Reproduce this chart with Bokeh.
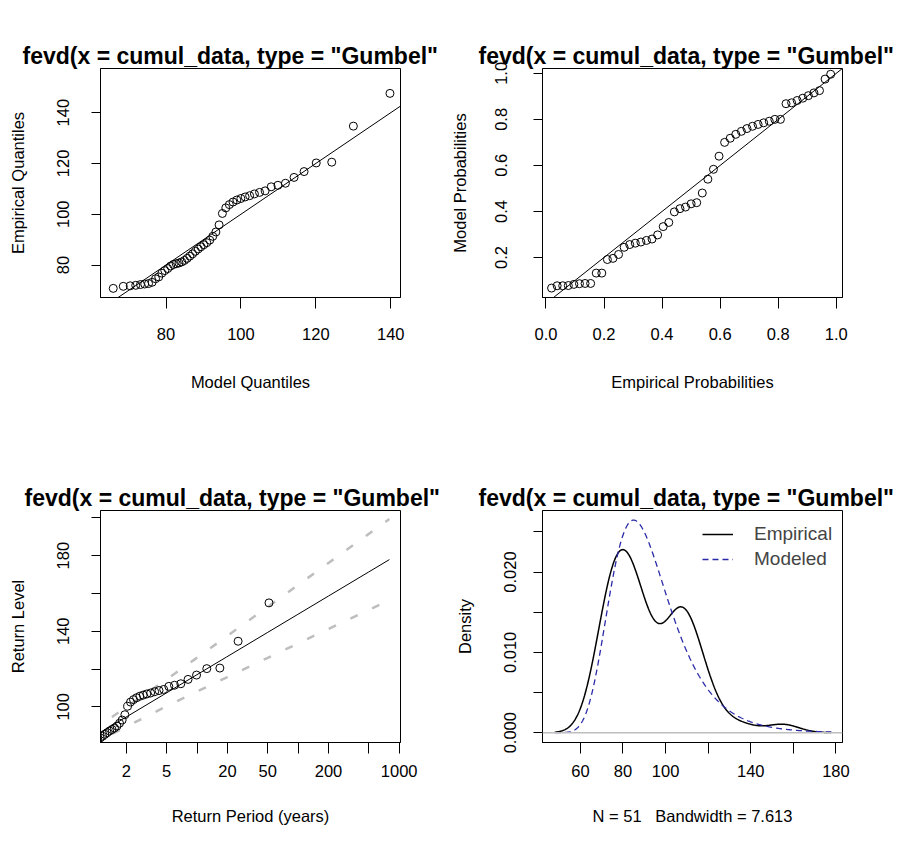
import numpy as np
from bokeh.plotting import figure
from bokeh.layouts import gridplot
from bokeh.models import (Range1d, FixedTicker, Legend, LegendItem, Span, Title,
                          NumeralTickFormatter, LinearAxis)
from bokeh.embed import file_html
from bokeh.resources import INLINE

FONT = "Liberation Sans"
S = 0.982

# ---------------- data ----------------
obs = [70.8, 71.6, 71.8, 72.0, 72.3, 72.5, 72.7, 73.2, 74.6, 75.3,
       76.8, 77.8, 78.6, 79.6, 80.2, 80.5, 80.8, 81.2, 81.8, 82.6,
       83.5, 84.4, 85.4, 86.3, 87.2, 88.0, 88.8, 89.8, 91.3, 93.0,
       95.8, 100.3, 102.5, 103.8, 104.8, 105.6, 106.2, 106.8, 107.3, 108.0,
       108.6, 109.2, 110.8, 111.4, 112.2, 114.5, 116.8, 120.2, 120.5, 134.7,
       155.0]
qq_empirical = [70.8, 71.6, 71.8, 72.0, 72.3, 72.5, 72.7, 73.2, 74.6, 75.3,
                76.8, 77.8, 78.6, 79.6, 80.2, 80.5, 80.8, 81.2, 81.8, 82.6,
                83.5, 84.4, 85.4, 86.3, 87.2, 88.0, 88.8, 89.8, 91.3, 93.0,
                95.8, 100.3, 102.5, 103.8, 104.8, 105.6, 106.2, 106.8, 107.3, 108.0,
                108.6, 109.2, 110.8, 111.4, 112.2, 114.5, 116.8, 120.2, 120.5, 134.7,
                147.6]
pp_model = [0.067, 0.077, 0.077, 0.078, 0.083, 0.086, 0.087, 0.087, 0.132, 0.132,
            0.191, 0.196, 0.213, 0.244, 0.256, 0.262, 0.267, 0.274, 0.280, 0.298,
            0.334, 0.352, 0.398, 0.412, 0.419, 0.433, 0.438, 0.480, 0.540, 0.583,
            0.640, 0.700, 0.718, 0.735, 0.748, 0.760, 0.770, 0.778, 0.785, 0.792,
            0.800, 0.800, 0.868, 0.872, 0.882, 0.892, 0.903, 0.915, 0.925, 0.975,
            0.996]
gumbel_loc = 85.0
gumbel_scale = 13.9
bandwidth = 7.613
rl_periods = [1.5, 2, 5, 10, 20, 50, 100, 200, 500, 800]
rl_ci_lower = [79.7, 85.6, 99.0, 107.5, 115.5, 125.8, 133.5, 141.2, 151.3, 156.4]
rl_ci_upper = [87.6, 94.6, 112.7, 125.1, 137.1, 152.7, 164.4, 176.1, 191.5, 199.4]

title_text = 'fevd(x = cumul_data, type = "Gumbel"'
qq_xticks = [80, 100, 120, 140]
qq_yticks = [80, 100, 120, 140]
pp_ticks_x = [0.0, 0.2, 0.4, 0.6, 0.8, 1.0]
pp_ticks_y = [0.2, 0.4, 0.6, 0.8, 1.0]
rl_xticks = [2, 5, 10, 20, 50, 100, 200, 500, 1000]
rl_xlabels = {2: "2", 5: "5", 10: "", 20: "20", 50: "50", 100: "", 200: "200", 500: "", 1000: "1000"}
rl_yticks = [100, 120, 140, 160, 180, 200]
rl_ylabels = {100: "100", 120: "", 140: "140", 160: "", 180: "180", 200: ""}
dens_xticks = [60, 80, 100, 120, 140, 160, 180]
dens_xlabels = {60: "60", 80: "80", 100: "100", 120: "", 140: "140", 160: "", 180: "180"}
dens_yticks = [0.0, 0.005, 0.010, 0.015, 0.020, 0.025]
dens_ylabels = {0.0: "0.000", 0.005: "", 0.010: "0.010", 0.015: "", 0.020: "0.020", 0.025: ""}

n = len(obs)
pp_pos = np.arange(1, n + 1) / (n + 1.0)

TICK_FS = "16.5px"
LAB_FS = "16.5px"
TITLE_FS = "23px"


def sc(v):
    return int(round(v * S))


def make_fig(left, right, top, bottom, fw, fh, xr, yr, xtype="linear",
             xstand=19, xlab_stand=30, ystand=22, ylab_stand=28):
    p = figure(frame_width=sc(fw), frame_height=sc(fh),
               min_border_left=sc(left), min_border_right=sc(right),
               min_border_top=sc(top), min_border_bottom=sc(bottom),
               x_range=xr, y_range=yr, x_axis_type=xtype,
               output_backend="svg", toolbar_location=None)
    p.grid.visible = False
    p.outline_line_color = "black"
    p.outline_line_width = 1
    p.outline_line_alpha = 1
    p.background_fill_color = "white"
    p.border_fill_color = "white"
    for ax in p.axis:
        ax.axis_line_color = "black"
        ax.major_tick_line_color = "black"
        ax.major_tick_in = 0
        ax.minor_tick_line_color = None
        ax.major_label_text_font = FONT
        ax.major_label_text_font_size = TICK_FS
        ax.major_label_text_color = "black"
        ax.axis_label_text_font = FONT
        ax.axis_label_text_font_size = LAB_FS
        ax.axis_label_text_font_style = "normal"
        ax.axis_label_text_color = "black"
    p.xaxis.major_tick_out = 11
    p.yaxis.major_tick_out = 9
    p.yaxis.major_label_orientation = "vertical"
    p.xaxis.major_label_standoff = xstand
    p.yaxis.major_label_standoff = ystand
    p.xaxis.axis_label_standoff = xlab_stand
    p.yaxis.axis_label_standoff = ylab_stand
    return p


def add_title(p, start_offset, gap):
    # an empty, invisible axis between the frame and the title lifts the title up
    spacer = LinearAxis(ticker=FixedTicker(ticks=[]), axis_line_color=None,
                        major_tick_line_color=None, minor_tick_line_color=None,
                        major_tick_out=gap, major_tick_in=0, minor_tick_out=0,
                        major_label_standoff=0, major_label_text_font_size="1px")
    p.add_layout(spacer, "above")
    t = Title(text=title_text, align="left", offset=start_offset,
              text_font=FONT, text_font_style="bold", text_font_size=TITLE_FS,
              text_color="black", standoff=0)
    p.add_layout(t, "above")


# ---------------- panel 1: QQ ----------------
p1 = make_fig(102, 48, 69, 123, 306, 233, Range1d(62.5, 142.6), Range1d(67.2, 157.4))
model_q = gumbel_loc - gumbel_scale * np.log(-np.log(pp_pos))
p1.line([60, 160], [60, 160], line_color="black", line_width=1)
p1.scatter(model_q, qq_empirical, marker="circle", size=8, fill_color=None,
           line_color="black", line_width=1)
p1.xaxis.ticker = FixedTicker(ticks=qq_xticks)
p1.yaxis.ticker = FixedTicker(ticks=qq_yticks)
p1.xaxis.axis_label = "Model Quantiles"
p1.yaxis.axis_label = "Empirical Quantiles"
add_title(p1, -78, 30)

# ---------------- panel 2: PP ----------------
p2 = make_fig(97, 53, 69, 123, 306, 233, Range1d(-0.012, 1.0215), Range1d(0.026, 1.021),
              ystand=26, ylab_stand=24)
p2.line([-0.2, 1.2], [-0.2, 1.2], line_color="black", line_width=1)
p2.scatter(pp_pos, pp_model, marker="circle", size=8, fill_color=None,
           line_color="black", line_width=1)
p2.xaxis.ticker = FixedTicker(ticks=pp_ticks_x)
p2.yaxis.ticker = FixedTicker(ticks=pp_ticks_y)
p2.xaxis.formatter = NumeralTickFormatter(format="0.0")
p2.yaxis.formatter = NumeralTickFormatter(format="0.0")
p2.xaxis.axis_label = "Empirical Probabilities"
p2.yaxis.axis_label = "Model Probabilities"
add_title(p2, -64, 30)

# ---------------- panel 3: return level ----------------
p3 = make_fig(102, 48, 94, 95, 306, 236, Range1d(1.11, 1030), Range1d(81.1, 203.9),
              xtype="log", xstand=11, xlab_stand=27)
T = np.array(rl_periods, dtype=float)
rl_x = -1.0 / np.log(1.0 - 1.0 / T)
rl_y = gumbel_loc - gumbel_scale * np.log(-np.log(1.0 - 1.0 / T))
p3.line(rl_x, rl_ci_upper, line_color="#BEBEBE", line_width=2.5, line_dash="8 16")
p3.line(rl_x, rl_ci_lower, line_color="#BEBEBE", line_width=2.5, line_dash="8 16")
p3.line(rl_x, rl_y, line_color="black", line_width=1)
emp_T = -1.0 / np.log(pp_pos)
p3.scatter(emp_T, obs, marker="circle", size=8, fill_color=None,
           line_color="black", line_width=1)
p3.xaxis.ticker = FixedTicker(ticks=rl_xticks)
p3.xaxis.major_label_overrides = rl_xlabels
p3.yaxis.ticker = FixedTicker(ticks=rl_yticks)
p3.yaxis.major_label_overrides = rl_ylabels
p3.xaxis.axis_label = "Return Period (years)"
p3.yaxis.axis_label = "Return Level"
add_title(p3, -76, 34)

# ---------------- panel 4: density ----------------
p4 = make_fig(97, 53, 94, 95, 306, 236, Range1d(42.2, 183.1), Range1d(-0.00122, 0.02766),
              xstand=11, xlab_stand=27, ystand=17, ylab_stand=28)
ob = np.array(obs)
gx = np.linspace(ob.min() - 3 * bandwidth, ob.max() + 3 * bandwidth, 512)
kde = np.exp(-0.5 * ((gx[:, None] - ob[None, :]) / bandwidth) ** 2).sum(axis=1) / (n * bandwidth * np.sqrt(2 * np.pi))
z = (gx - gumbel_loc) / gumbel_scale
gpdf = np.exp(-z - np.exp(-z)) / gumbel_scale
p4.add_layout(Span(location=0, dimension="width", line_color="#BEBEBE", line_width=1.5))
r_emp = p4.line(gx, kde, line_color="black", line_width=1.5)
r_mod = p4.line(gx, gpdf, line_color="#2A2AA8", line_width=1.3, line_dash="6 4")
p4.xaxis.ticker = FixedTicker(ticks=dens_xticks)
p4.xaxis.major_label_overrides = dens_xlabels
p4.yaxis.ticker = FixedTicker(ticks=dens_yticks)
p4.yaxis.major_label_overrides = dens_ylabels
p4.xaxis.axis_label = "N = 51\u00a0\u00a0\u00a0Bandwidth = 7.613"
p4.yaxis.axis_label = "Density"
legend = Legend(items=[LegendItem(label="Empirical", renderers=[r_emp]),
                       LegendItem(label="Modeled", renderers=[r_mod])],
                location=(sc(163), sc(236) - sc(14) - 46),
                border_line_alpha=0, background_fill_alpha=0,
                label_text_font=FONT, label_text_font_size="19px",
                glyph_width=31, glyph_height=20, label_height=20,
                label_standoff=21, spacing=3, padding=0, margin=0)
p4.add_layout(legend, "center")
add_title(p4, -64, 34)

grid = gridplot([[p1, p2], [p3, p4]], toolbar_location=None)
open("out.html", "w").write(file_html(grid, INLINE))
